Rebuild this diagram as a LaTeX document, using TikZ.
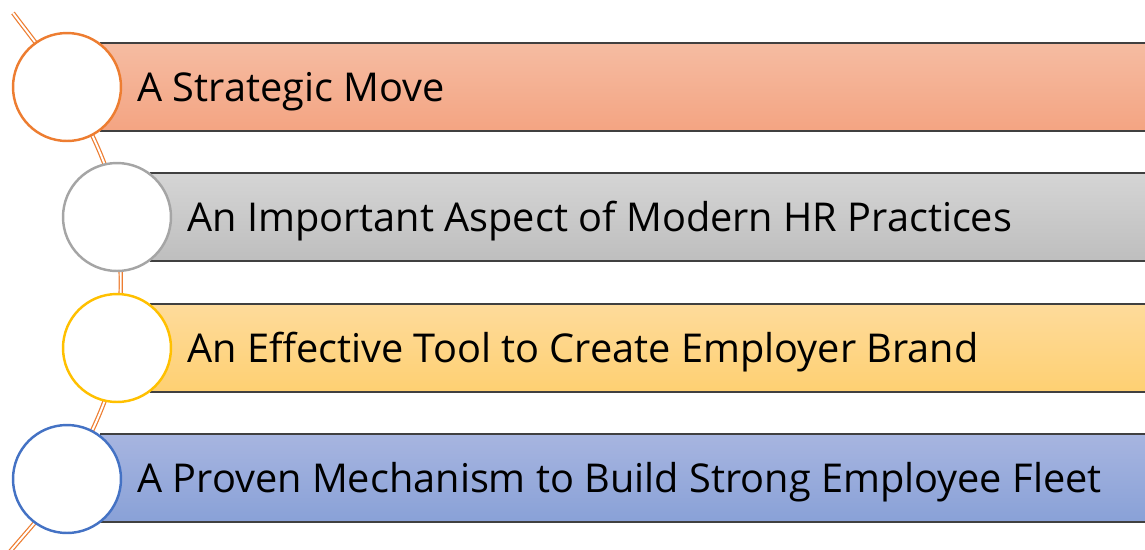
\documentclass[tikz,border=0pt]{standalone}
\usepackage{fontspec}
\setmainfont{Open Sans}
\usetikzlibrary{positioning,calc,backgrounds}
\definecolor{moveorange}{HTML}{ED7D31}
\definecolor{hrgray}{HTML}{A5A5A5}
\definecolor{brandgold}{HTML}{FFC000}
\definecolor{fleetblue}{HTML}{4472C4}
\definecolor{barline}{HTML}{404040}

\begin{document}
\begin{tikzpicture}[
        x=0.02cm, y=-0.02cm,
        bar/.style={rectangle, draw=barline, line width=0.7pt, anchor=west, minimum height=1.76cm, inner sep=0pt},
        dot/.style={circle, fill=white, line width=1.4pt, minimum size=2.16cm, inner sep=0pt},
        txt/.style={anchor=base west, font=\fontsize{22.6}{27}\selectfont, inner sep=0pt},
        link/.style={draw=moveorange, double=white, double distance=1.1pt, line width=0.7pt}
    ]
        \useasboundingbox (0,0) rectangle (1145,549);

        % Bars
        \node[bar, minimum width=20.96cm, top color={rgb,255:red,245;green,188;blue,162}, bottom color={rgb,255:red,244;green,164;blue,130}] (bar1) at (100,87) {};
        \node[bar, minimum width=19.96cm, top color={rgb,255:red,213;green,213;blue,213}, bottom color={rgb,255:red,190;green,190;blue,190}] (bar2) at (150,217) {};
        \node[bar, minimum width=19.96cm, top color={rgb,255:red,254;green,219;blue,155}, bottom color={rgb,255:red,254;green,208;blue,114}] (bar3) at (150,348) {};
        \node[bar, minimum width=20.96cm, top color={rgb,255:red,167;green,181;blue,224}, bottom color={rgb,255:red,137;green,161;blue,215}] (bar4) at (100,478) {};

        % Texts
        \node[txt] (t1) at ([xshift=0.74cm, yshift=-0.28cm]bar1.west) {A Strategic Move};
        \node[txt] (t2) at ([xshift=0.74cm, yshift=-0.28cm]bar2.west) {An Important Aspect of Modern HR Practices};
        \node[txt] (t3) at ([xshift=0.74cm, yshift=-0.28cm]bar3.west) {An Effective Tool to Create Employer Brand};
        \node[txt] (t4) at ([xshift=0.74cm, yshift=-0.28cm]bar4.west) {A Proven Mechanism to Build Strong Employee Fleet};

        % Circles
        \node[dot, draw=moveorange] (dot1) at (67,87) {};
        \node[dot, draw=hrgray] (dot2) at (117,217) {};
        \node[dot, draw=brandgold] (dot3) at (117,348) {};
        \node[dot, draw=fleetblue] (dot4) at (67,479) {};
        \coordinate (top) at (13,13);
        \coordinate (bottom) at (8,554);

        % Orange link behind the circles
        \begin{scope}[on background layer]
        \draw[link] (top) .. controls (31,37) and (52,63) .. (dot1.center)
            .. controls (87,123) and (115,175) .. (dot2.center)
            .. controls (122,250) and (122,315) .. (dot3.center)
            .. controls (115,390) and (87,443) .. (dot4.center)
            .. controls (52,505) and (28,530) .. (bottom);
        \end{scope}
\end{tikzpicture}
\end{document}
